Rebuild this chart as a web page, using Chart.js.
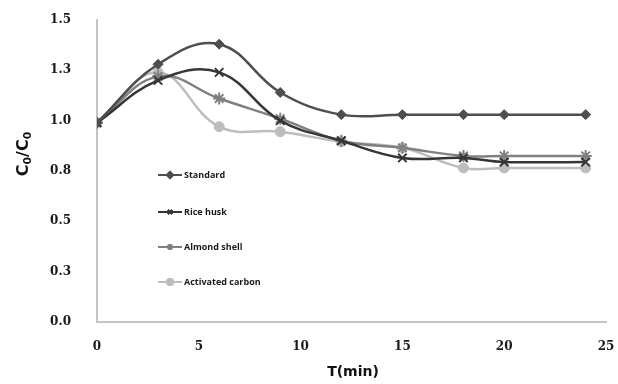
<!DOCTYPE html>
<html>
<head>
<meta charset="utf-8">
<script src="https://cdn.jsdelivr.net/npm/chart.js@4/dist/chart.umd.min.js"></script>
<style>
  html, body { margin: 0; padding: 0; background: #fff; }
  #wrap { width: 618px; height: 384px; position: relative; }
</style>
</head>
<body>
<div id="wrap"><canvas id="grafico"></canvas></div>
<script>
// tiempos (min) y valores C/C0
const tiempos = [0, 3, 6, 9, 12, 15, 18, 20, 24];
const standard = [0.99, 1.28, 1.38, 1.14, 1.03, 1.03, 1.03, 1.03, 1.03];
const riceHusk = [0.99, 1.20, 1.24, 1.0, 0.9, 0.815, 0.815, 0.795, 0.795];
const almondShell = [0.99, 1.22, 1.11, 1.01, 0.9, 0.865, 0.825, 0.825, 0.825];
const activatedCarbon = [0.99, 1.24, 0.97, 0.945, 0.895, 0.865, 0.765, 0.765, 0.765];

const yTickLabels = ["0.0", "0.3", "0.5", "0.8", "1.0", "1.3", "1.5"];
const xTickLabels = ["0", "5", "10", "15", "20", "25"];

const series = [
  { label: "Standard", data: standard, color: "#4e4e4e", punto: "rectRot", radio: 5 },
  { label: "Rice husk", data: riceHusk, color: "#363636", punto: "crossRot", radio: 6 },
  { label: "Almond shell", data: almondShell, color: "#808080", punto: "star", radio: 6 },
  { label: "Activated carbon", data: activatedCarbon, color: "#bdbdbd", punto: "circle", radio: 5 },
];

const toPoints = (vals) => vals.map((v, i) => ({ x: tiempos[i], y: v }));

// leyenda dentro del area y titulos de ejes
const extras = {
  id: "extras",
  afterDraw(chart) {
    const ctx = chart.ctx;
    ctx.save();
    const ys = [175, 212, 247, 282];
    series.forEach((s, i) => {
      const y = ys[i];
      ctx.strokeStyle = s.color;
      ctx.lineWidth = 2;
      ctx.beginPath();
      ctx.moveTo(158, y);
      ctx.lineTo(182, y);
      ctx.stroke();
      if (Chart.helpers && Chart.helpers.drawPoint) {
        Chart.helpers.drawPoint(ctx, {
          pointStyle: s.punto, radius: 3, rotation: 0, borderWidth: 1,
        }, 170, y);
        ctx.fillStyle = s.color;
        ctx.strokeStyle = s.color;
        ctx.fill();
        ctx.stroke();
      }
      ctx.fillStyle = "#1a1a1a";
      ctx.font = "bold 9px 'Open Sans', sans-serif";
      ctx.textAlign = "left";
      ctx.textBaseline = "middle";
      ctx.fillText(s.label, 184, y);
    });

    // titulo eje x
    ctx.fillStyle = "#111";
    ctx.font = "bold 14px 'DejaVu Sans', sans-serif";
    ctx.textAlign = "center";
    ctx.textBaseline = "middle";
    ctx.fillText("T(min)", 353, 372);

    // titulo eje y: C0/C0 con subindices
    ctx.translate(24, 154);
    ctx.rotate(-Math.PI / 2);
    const big = "bold 16px 'DejaVu Sans', sans-serif";
    const small = "bold 11px 'DejaVu Sans', sans-serif";
    const parts = [["C", big, 0], ["0", small, 4], ["/", big, 0], ["C", big, 0], ["0", small, 4]];
    let total = 0;
    parts.forEach((p) => { ctx.font = p[1]; total += ctx.measureText(p[0]).width; });
    let x = -total / 2;
    ctx.textAlign = "left";
    parts.forEach((p) => {
      ctx.font = p[1];
      ctx.fillText(p[0], x, p[2]);
      x += ctx.measureText(p[0]).width;
    });
    ctx.restore();
  },
};

new Chart(document.getElementById("grafico"), {
  type: "line",
  data: {
    datasets: series.map((s) => ({
      label: s.label,
      data: toPoints(s.data),
      borderColor: s.color,
      backgroundColor: s.color,
      pointBackgroundColor: s.color,
      pointBorderColor: s.color,
      pointStyle: s.punto,
      pointRadius: s.radio,
      pointBorderWidth: s.punto === "crossRot" || s.punto === "star" ? 2 : 1,
      borderWidth: 2.5,
      tension: 0.4,
      fill: false,
    })),
  },
  options: {
    responsive: true,
    maintainAspectRatio: false,
    animation: false,
    layout: { padding: { top: 20, right: 12, left: 0, bottom: 0 } },
    plugins: {
      legend: { display: false },
      tooltip: { enabled: false },
    },
    scales: {
      x: {
        type: "linear",
        min: 0,
        max: 25,
        grid: { display: false },
        border: { display: true, color: "#c4c4c4", width: 2 },
        ticks: {
          stepSize: 5,
          padding: 10,
          color: "#1a1a1a",
          font: { family: "'DejaVu Serif', serif", size: 12, weight: "bold" },
          callback: (v) => xTickLabels[Math.round(v / 5)],
        },
        afterFit: (scale) => {
          scale.height = 62;
          scale.paddingLeft = 0;
          scale.paddingRight = 0;
        },
      },
      y: {
        min: 0,
        max: 1.5,
        grid: { display: false },
        border: { display: true, color: "#c4c4c4", width: 2 },
        ticks: {
          stepSize: 0.25,
          padding: 18,
          color: "#1a1a1a",
          font: { family: "'DejaVu Serif', serif", size: 12, weight: "bold" },
          callback: (v) => yTickLabels[Math.round(v / 0.25)],
        },
        afterFit: (scale) => {
          scale.width = 97;
          scale.paddingTop = 0;
          scale.paddingBottom = 0;
        },
      },
    },
  },
  plugins: [extras],
});
</script>
</body>
</html>
